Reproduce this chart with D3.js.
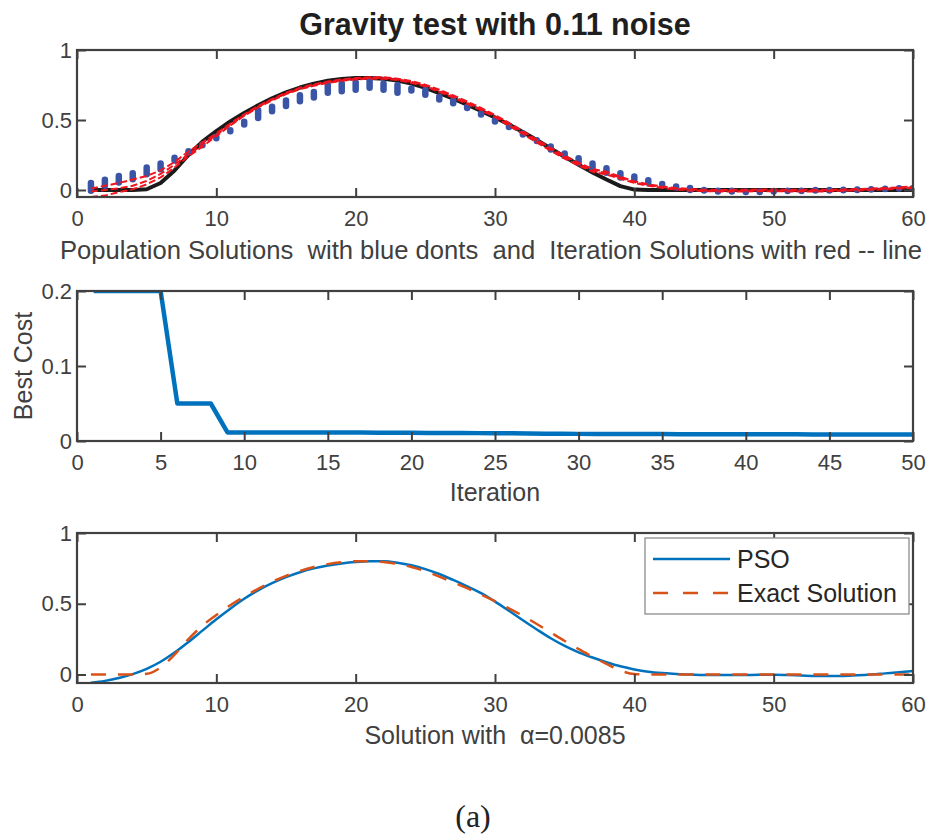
<!DOCTYPE html>
<html>
<head>
<meta charset="UTF-8">
<title>Gravity test with 0.11 noise</title>
<script src="https://d3js.org/d3.v7.min.js"></script>
<style>
	body { margin: 0; background: #fff; }
	svg { font-family: "Liberation Sans", Arial, Helvetica, sans-serif; }
	text { white-space: pre; }
</style>
</head>
<body>
<svg id="chart" width="927" height="836"></svg>
<script type="text/javascript">
// ---- data ----
var gridX = d3.range(1, 61);   // solution grid points 1..60
var iterX = d3.range(1, 51);   // iterations 1..50

var exactSol = [0, 0, 0, 0, 0.005, 0.05, 0.14, 0.25, 0.345, 0.42,
	0.49, 0.55, 0.605, 0.655, 0.697, 0.732, 0.76, 0.78, 0.793, 0.80,
	0.80, 0.795, 0.782, 0.76, 0.73, 0.692, 0.652, 0.61, 0.565, 0.518,
	0.468, 0.415, 0.357, 0.297, 0.237, 0.18, 0.125, 0.075, 0.028, 0.003,
	0, 0, 0, 0, 0, 0, 0, 0, 0, 0,
	0, 0, 0, 0, 0, 0, 0, 0, 0, 0];

var psoSol = [-0.058, -0.045, -0.025, 0.003, 0.04, 0.09, 0.155, 0.23, 0.31, 0.39,
	0.465, 0.535, 0.595, 0.645, 0.688, 0.723, 0.75, 0.77, 0.785, 0.795,
	0.80, 0.80, 0.79, 0.772, 0.745, 0.71, 0.668, 0.623, 0.575, 0.515,
	0.45, 0.383, 0.318, 0.256, 0.202, 0.157, 0.12, 0.087, 0.058, 0.036,
	0.02, 0.01, 0.003, 0, -0.003, -0.004, -0.004, -0.003, -0.002, -0.002,
	-0.004, -0.007, -0.01, -0.011, -0.01, -0.006, 0, 0.008, 0.016, 0.025];

// iteration solutions (red dashed)
var iterLow = [-0.05, -0.04, -0.015, 0.005, 0.04, 0.09, 0.16, 0.24, 0.31, 0.385,
	0.46, 0.53, 0.59, 0.64, 0.685, 0.72, 0.745, 0.765, 0.78, 0.79,
	0.795, 0.795, 0.785, 0.765, 0.74, 0.70, 0.66, 0.615, 0.57, 0.52,
	0.46, 0.40, 0.34, 0.28, 0.225, 0.175, 0.13, 0.11, 0.08, 0.05,
	0.03, 0.015, 0.004, -0.004, -0.008, -0.01, -0.011, -0.01, -0.009, -0.009,
	-0.01, -0.011, -0.011, -0.009, -0.006, -0.003, 0.001, 0.005, 0.01, 0.015];
var iterMid = [-0.01, 0.0, 0.012, 0.03, 0.065, 0.115, 0.18, 0.255, 0.325, 0.395,
	0.465, 0.535, 0.595, 0.645, 0.69, 0.725, 0.75, 0.77, 0.785, 0.795,
	0.80, 0.80, 0.79, 0.772, 0.745, 0.708, 0.668, 0.624, 0.578, 0.528,
	0.47, 0.41, 0.35, 0.29, 0.235, 0.185, 0.14, 0.12, 0.088, 0.056,
	0.035, 0.02, 0.008, 0.001, -0.003, -0.005, -0.005, -0.004, -0.003, -0.003,
	-0.004, -0.005, -0.005, -0.003, -0.001, 0.002, 0.006, 0.01, 0.015, 0.02];
var iterHigh = [0.01, 0.03, 0.05, 0.075, 0.10, 0.14, 0.20, 0.275, 0.34, 0.405,
	0.475, 0.54, 0.60, 0.65, 0.695, 0.73, 0.755, 0.775, 0.79, 0.80,
	0.805, 0.805, 0.795, 0.778, 0.752, 0.716, 0.676, 0.632, 0.586, 0.536,
	0.48, 0.42, 0.36, 0.30, 0.245, 0.195, 0.15, 0.13, 0.095, 0.062,
	0.04, 0.025, 0.014, 0.007, 0.002, 0, 0.001, 0.002, 0.003, 0.003,
	0.002, 0.001, 0.001, 0.002, 0.004, 0.007, 0.01, 0.014, 0.019, 0.025];

// population solutions (blue dots): highest and lowest member at each point
var popHi = [0.05, 0.073, 0.10, 0.12, 0.16, 0.19, 0.23, 0.276, 0.325, 0.38,
	0.427, 0.487, 0.57, 0.594, 0.64, 0.676, 0.70, 0.75, 0.76, 0.77,
	0.78, 0.76, 0.75, 0.725, 0.715, 0.666, 0.64, 0.594, 0.546, 0.50,
	0.455, 0.404, 0.356, 0.31, 0.26, 0.226, 0.19, 0.155, 0.12, 0.096,
	0.07, 0.042, 0.025, 0.015, 0.0, -0.005, -0.005, -0.012, -0.012, -0.007,
	-0.005, -0.005, 0, 0, 0.002, 0.003, 0.006, 0.009, 0.013, 0.013];
var popLo = [-0.005, 0.03, 0.054, 0.077, 0.113, 0.148, 0.21, 0.266, 0.32, 0.37,
	0.42, 0.467, 0.515, 0.563, 0.60, 0.634, 0.66, 0.695, 0.706, 0.716,
	0.73, 0.716, 0.695, 0.71, 0.68, 0.647, 0.62, 0.586, 0.54, 0.49,
	0.45, 0.396, 0.35, 0.29, 0.243, 0.195, 0.16, 0.124, 0.09, 0.077,
	0.053, 0.04, 0.018, 0.0, -0.004, -0.01, -0.01, -0.015, -0.015, -0.01,
	-0.008, -0.008, -0.003, -0.003, -0.001, 0.0, 0.004, 0.007, 0.011, 0.011];

var bestCost = [0.2, 0.2, 0.2, 0.2, 0.2, 0.05, 0.05, 0.05, 0.0115, 0.0115,
	0.0115, 0.0115, 0.0115, 0.0115, 0.0114, 0.0113, 0.0112, 0.0111, 0.011, 0.0109,
	0.0108, 0.0107, 0.0106, 0.0105, 0.0104, 0.0102, 0.01, 0.0098, 0.0096, 0.0095,
	0.0094, 0.0093, 0.0093, 0.0092, 0.0092, 0.0091, 0.0091, 0.009, 0.009, 0.009,
	0.0089, 0.0089, 0.0089, 0.0088, 0.0088, 0.0088, 0.0088, 0.0087, 0.0087, 0.0087];

var solXTicks = [0, 10, 20, 30, 40, 50, 60];
var solYTicks = [0, 0.5, 1];
var costXTicks = [0, 5, 10, 15, 20, 25, 30, 35, 40, 45, 50];
var costYTicks = [0, 0.1, 0.2];

var titleText = "Gravity test with 0.11 noise";
var topLabel = "Population Solutions  with blue donts  and  Iteration Solutions with red -- line";
var midXLabel = "Iteration";
var midYLabel = "Best Cost";
var botLabel = "Solution with  \u03b1=0.0085";
var legendNames = ["PSO", "Exact Solution"];

// ---- layout ----
var L = 77, R = 913, TICK = 9;
var axisColor = "#404040";
var svg = d3.select("#chart");

function makePanel(id, top, bottom, xDom, yDom)
{
	var x = d3.scaleLinear().domain(xDom).range([L, R]);
	var y = d3.scaleLinear().domain(yDom).range([bottom, top]);
	svg.append("clipPath").attr("id", id)
		.append("rect").attr("x", L).attr("y", top)
		.attr("width", R - L).attr("height", bottom - top);
	var plot = svg.append("g").attr("clip-path", "url(#" + id + ")");
	return { x: x, y: y, top: top, bottom: bottom, plot: plot };
}

function drawAxes(p, xTicks, yTicks)
{
	var fmt = function(d) { return String(d); };
	var g = svg.append("g");
	g.append("g").attr("transform", "translate(0," + p.bottom + ")")
		.call(d3.axisBottom(p.x).tickValues(xTicks).tickSizeInner(-TICK).tickSizeOuter(0).tickPadding(13).tickFormat(fmt));
	g.append("g").attr("transform", "translate(0," + p.top + ")")
		.call(d3.axisTop(p.x).tickValues(xTicks).tickSizeInner(-TICK).tickSizeOuter(0).tickFormat(""));
	g.append("g").attr("transform", "translate(" + L + ",0)")
		.call(d3.axisLeft(p.y).tickValues(yTicks).tickSizeInner(-TICK).tickSizeOuter(0).tickPadding(5).tickFormat(fmt));
	g.append("g").attr("transform", "translate(" + R + ",0)")
		.call(d3.axisRight(p.y).tickValues(yTicks).tickSizeInner(-TICK).tickSizeOuter(0).tickFormat(""));
	g.selectAll(".domain").remove();
	g.selectAll(".tick line").attr("stroke", axisColor).attr("stroke-width", 2);
	g.selectAll(".tick text").attr("fill", axisColor).style("font-size", "22px")
		.style("font-family", "'Liberation Sans', Arial, sans-serif");
	g.append("rect").attr("x", L).attr("y", p.top)
		.attr("width", R - L).attr("height", p.bottom - p.top)
		.attr("fill", "none").attr("stroke", axisColor).attr("stroke-width", 2.2);
}

function addText(str, x, y, size, opts)
{
	opts = opts || {};
	var t = svg.append("text").attr("x", x).attr("y", y)
		.attr("text-anchor", opts.anchor || "middle")
		.attr("fill", opts.fill || axisColor)
		.style("font-size", size + "px")
		.text(str);
	if (opts.bold) t.style("font-weight", "bold");
	if (opts.family) t.style("font-family", opts.family);
	if (opts.rotate) t.attr("transform", "rotate(-90," + x + "," + y + ")");
	return t;
}

// ---- panel 1: population / iteration solutions ----
var p1 = makePanel("clip1", 50, 197, [0, 60], [-0.05, 1]);
var line1 = d3.line().x(function(d) { return p1.x(d[0]); }).y(function(d) { return p1.y(d[1]); });

p1.plot.append("path").datum(d3.zip(gridX, exactSol))
	.attr("d", line1).attr("fill", "none")
	.attr("stroke", "#1a1a1a").attr("stroke-width", 4).attr("stroke-linejoin", "round");

//每个网格点上种群的取值范围画成一串点
p1.plot.selectAll("line.pop").data(d3.zip(gridX, popLo, popHi)).enter()
	.append("line").classed("pop", true)
	.attr("x1", function(d) { return p1.x(d[0]); })
	.attr("x2", function(d) { return p1.x(d[0]); })
	.attr("y1", function(d) { return p1.y(d[1]); })
	.attr("y2", function(d) { return p1.y(d[2]); })
	.attr("stroke", "#3a54a6").attr("stroke-width", 6.5).attr("stroke-linecap", "round");

[iterLow, iterMid, iterHigh].forEach(function(s)
{
	p1.plot.append("path").datum(d3.zip(gridX, s))
		.attr("d", line1).attr("fill", "none")
		.attr("stroke", "#f0141e").attr("stroke-width", 2)
		.attr("stroke-dasharray", "7,3");
});
drawAxes(p1, solXTicks, solYTicks);

// ---- panel 2: best cost ----
var p2 = makePanel("clip2", 291, 441, [0, 50], [0, 0.2]);
p2.plot.append("path").datum(d3.zip(iterX, bestCost))
	.attr("d", d3.line().x(function(d) { return p2.x(d[0]); }).y(function(d) { return p2.y(d[1]); }))
	.attr("fill", "none").attr("stroke", "#0072BD").attr("stroke-width", 4.5)
	.attr("stroke-linejoin", "round");
drawAxes(p2, costXTicks, costYTicks);

// ---- panel 3: PSO vs exact ----
var p3 = makePanel("clip3", 533, 683, [0, 60], [-0.06, 1]);
var line3 = d3.line().curve(d3.curveMonotoneX)
	.x(function(d) { return p3.x(d[0]); }).y(function(d) { return p3.y(d[1]); });
p3.plot.append("path").datum(d3.zip(gridX, psoSol))
	.attr("d", line3).attr("fill", "none")
	.attr("stroke", "#0072BD").attr("stroke-width", 2.5);
p3.plot.append("path").datum(d3.zip(gridX, exactSol))
	.attr("d", line3).attr("fill", "none")
	.attr("stroke", "#D95319").attr("stroke-width", 2.5).attr("stroke-dasharray", "15,12");
drawAxes(p3, solXTicks, solYTicks);

// legend
var leg = svg.append("g");
leg.append("rect").attr("x", 645).attr("y", 538).attr("width", 264).attr("height", 76)
	.attr("fill", "#fff").attr("stroke", "#8c8c8c").attr("stroke-width", 1.3);
var legStyles = [{ c: "#0072BD", dash: null }, { c: "#D95319", dash: "15,15" }];
legendNames.forEach(function(name, i)
{
	var ly = 559 + i * 34;
	leg.append("line").attr("x1", 653).attr("x2", 730).attr("y1", ly).attr("y2", ly)
		.attr("stroke", legStyles[i].c).attr("stroke-width", 2.5)
		.attr("stroke-dasharray", legStyles[i].dash);
	leg.append("text").attr("x", 737).attr("y", ly).attr("dy", "0.35em")
		.attr("fill", "#262626").style("font-size", "25px").text(name);
});

// ---- titles and labels ----
addText(titleText, 495, 35, 30.5, { bold: true, fill: "#1f1f1f" });
addText(topLabel, 491, 259, 25.6);
addText(midXLabel, 495, 501, 25);
addText(midYLabel, 32, 366, 25, { rotate: true });
addText(botLabel, 495, 744, 25);
addText("(a)", 473, 827, 32, { fill: "#222", family: "'Liberation Serif', 'Times New Roman', serif" });
</script>
</body>
</html>
